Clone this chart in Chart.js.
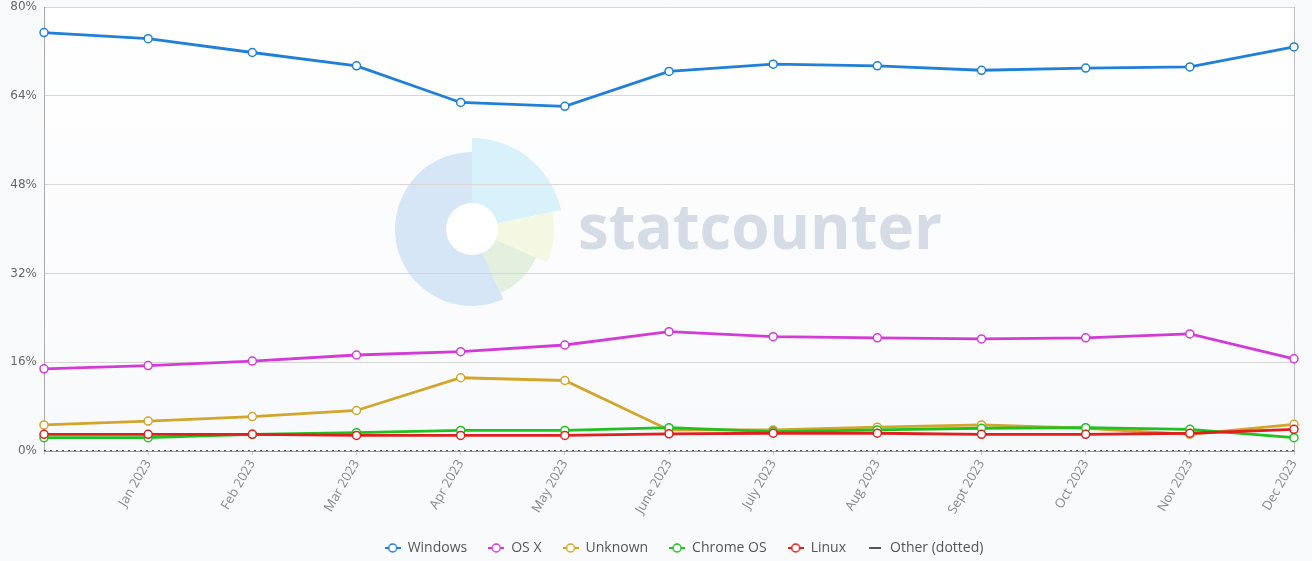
<!DOCTYPE html>
<html>
<head>
<meta charset="utf-8">
<script src="https://cdn.jsdelivr.net/npm/chart.js@4/dist/chart.umd.min.js"></script>
<style>
  html, body { margin: 0; padding: 0; background: #f9fafc; }
  #wrap { width: 1312px; height: 561px; }
</style>
</head>
<body>
<div id="wrap"><canvas id="chart" width="1312" height="561"></canvas></div>
<script>
// months (first point has no label on the axis)
const months = ["Dec 2022", "Jan 2023", "Feb 2023", "Mar 2023", "Apr 2023", "May 2023", "June 2023",
    "July 2023", "Aug 2023", "Sept 2023", "Oct 2023", "Nov 2023", "Dec 2023"];

// market share, %
const windows  = [75.4, 74.3, 71.8, 69.4, 62.8, 62.1, 68.4, 69.7, 69.4, 68.6, 69.0, 69.2, 72.8];
const osx      = [14.8, 15.4, 16.2, 17.3, 17.9, 19.1, 21.5, 20.6, 20.4, 20.2, 20.4, 21.1, 16.6];
const unknown  = [4.7, 5.4, 6.2, 7.3, 13.2, 12.7, 3.8, 3.8, 4.3, 4.7, 4.1, 3.0, 4.8];
const chromeOS = [2.4, 2.4, 3.0, 3.3, 3.7, 3.7, 4.2, 3.5, 3.8, 4.1, 4.2, 3.9, 2.4];
const linux    = [3.0, 3.0, 3.0, 2.8, 2.8, 2.8, 3.1, 3.2, 3.2, 3.0, 3.0, 3.2, 3.9];
const other    = [0, 0, 0, 0, 0, 0, 0, 0, 0, 0, 0, 0, 0];

const yTicks = [0, 16, 32, 48, 64, 80];

// little "-o-" legend icons
function legendIcon(color, dotted) {
    const c = document.createElement("canvas");
    c.width = 16; c.height = 12;
    const g = c.getContext("2d");
    g.strokeStyle = color;
    g.lineWidth = 2;
    g.beginPath();
    g.moveTo(dotted ? 2 : 0, 6); g.lineTo(dotted ? 14 : 16, 6);
    g.stroke();
    if (!dotted) {
        g.beginPath();
        g.arc(8, 6, 4, 0, Math.PI * 2);
        g.fillStyle = "#fff";
        g.fill();
        g.lineWidth = 1.5;
        g.stroke();
    }
    return c;
}

function series(label, data, color, order) {
    return {
        label: label,
        data: data,
        borderColor: color,
        backgroundColor: color,
        borderWidth: 2.8,
        tension: 0,
        pointRadius: 4,
        pointBorderWidth: 1.5,
        pointBackgroundColor: "#fff",
        pointBorderColor: color,
        pointStyle: "circle",
        order: order,
        legendIcon: legendIcon(color, false)
    };
}

// background + statcounter watermark
const backdrop = {
    id: "backdrop",
    afterLayout(chart) {
        // legend sits a bit right of centre in the original
        chart.legend.left += 37;
        chart.legend.right += 37;
    },
    beforeDraw(chart) {
        const ctx = chart.ctx;
        const a = chart.chartArea;
        ctx.save();
        ctx.fillStyle = "#f9fafc";
        ctx.fillRect(0, 0, chart.width, chart.height);
        const grad = ctx.createLinearGradient(0, a.top, 0, a.bottom);
        grad.addColorStop(0, "#ffffff");
        grad.addColorStop(1, "#f8f9fc");
        ctx.fillStyle = grad;
        ctx.fillRect(a.left, a.top, a.right - a.left, a.bottom - a.top);

        const cx = 472, cy = 229;
        const deg = Math.PI / 180;
        const wedges = [
            [66, 270, 77, "#d6e6f6"],
            [-90, -12, 91, "#d9f1fb"],
            [-12, 24, 82, "#f4f8e2"],
            [24, 66, 70, "#e4f0df"]
        ];
        wedges.forEach(w => {
            ctx.beginPath();
            ctx.moveTo(cx, cy);
            ctx.arc(cx, cy, w[2], w[0] * deg, w[1] * deg);
            ctx.closePath();
            ctx.fillStyle = w[3];
            ctx.fill();
        });
        ctx.beginPath();
        ctx.arc(cx, cy, 26, 0, Math.PI * 2);
        ctx.fillStyle = "#ffffff";
        ctx.fill();

        ctx.fillStyle = "#d5dce6";
        ctx.font = "bold 62px 'Open Sans'";
        ctx.textBaseline = "alphabetic";
        ctx.fillText("statcounter", 578, 249, 364);
        ctx.restore();
    },
    beforeDatasetsDraw(chart) {
        const ctx = chart.ctx;
        const a = chart.chartArea;
        ctx.save();
        ctx.strokeStyle = "#bdbdbd";
        ctx.lineWidth = 1;
        ctx.beginPath();
        ctx.moveTo(Math.round(a.right) + 0.5, a.top);
        ctx.lineTo(Math.round(a.right) + 0.5, a.bottom);
        ctx.stroke();
        ctx.restore();
    }
};

const ctx = document.getElementById("chart").getContext("2d");

const chart = new Chart(ctx, {
    type: "line",
    plugins: [backdrop],
    data: {
        labels: months,
        datasets: [
            series("Windows", windows, "#1f7fd9", 5),
            series("OS X", osx, "#d23bd6", 4),
            series("Unknown", unknown, "#d2a52b", 3),
            series("Chrome OS", chromeOS, "#1fc21f", 2),
            series("Linux", linux, "#e01f1f", 1),
            {
                label: "Other (dotted)",
                data: other,
                borderColor: "#4a4a4a",
                borderWidth: 2,
                borderDash: [2, 4],
                pointRadius: 0,
                order: 0,
                legendIcon: legendIcon("#555", true)
            }
        ]
    },
    options: {
        responsive: false,
        animation: false,
        layout: { padding: { top: 7, right: 18, left: 0, bottom: -4 } },
        plugins: {
            tooltip: { enabled: false },
            legend: {
                position: "bottom",
                labels: {
                    usePointStyle: true,
                    pointStyleWidth: 16,
                    padding: 21,
                    color: "#555",
                    font: { family: "'Open Sans'", size: 14 },
                    sort: (a, b) => a.datasetIndex - b.datasetIndex,
                    generateLabels(chart) {
                        const items = Chart.defaults.plugins.legend.labels.generateLabels(chart);
                        items.forEach(it => {
                            it.pointStyle = chart.data.datasets[it.datasetIndex].legendIcon;
                            it.lineDash = [];
                        });
                        return items;
                    }
                }
            }
        },
        scales: {
            x: {
                offset: false,
                grid: {
                    drawOnChartArea: false,
                    drawTicks: true,
                    tickLength: 4,
                    color: "#cccccc"
                },
                border: { color: "#999" },
                ticks: {
                    autoSkip: false,
                    minRotation: 60,
                    maxRotation: 60,
                    padding: 2,
                    color: "#888",
                    font: { family: "'Open Sans'", size: 13 },
                    callback: (v, i) => i === 0 ? "" : months[i]
                },
                afterFit: s => { s.height = 69; }
            },
            y: {
                min: 0,
                max: 80,
                afterBuildTicks: s => { s.ticks = yTicks.map(v => ({ value: v })); },
                grid: { color: "#d6d6d6", drawTicks: false },
                border: { color: "#aaaaaa" },
                ticks: {
                    padding: 7,
                    color: "#666",
                    font: { family: "'DejaVu Sans'", size: 12 },
                    callback: v => v + "%"
                },
                afterFit: s => { s.width = 44; s.paddingTop = 0; s.paddingBottom = 0; }
            }
        }
    }
});
</script>
</body>
</html>
